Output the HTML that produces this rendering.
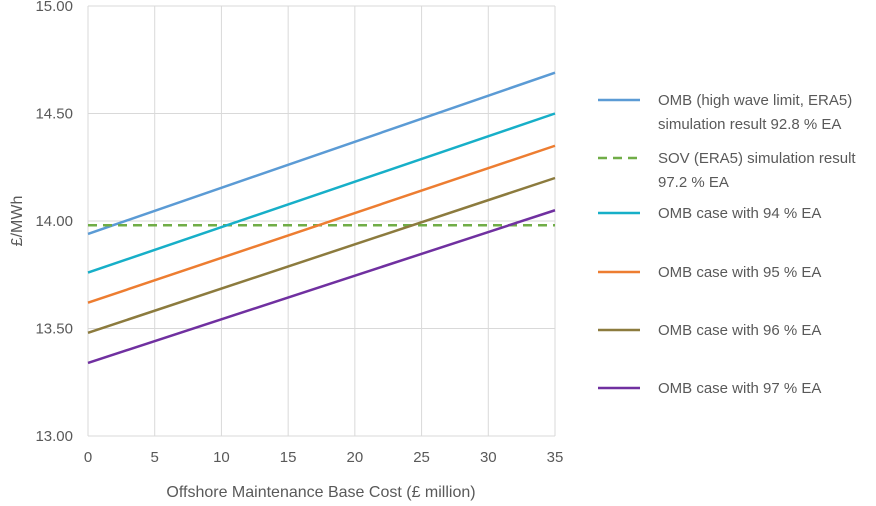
<!DOCTYPE html>
<html><head><meta charset="utf-8"><style>
body{margin:0;background:#fff;font-family:"Liberation Sans",sans-serif;}
svg text{font-family:"Liberation Sans",sans-serif;fill:#595959;}
</style></head><body>
<svg width="876" height="501" id="c">
<g id="grid"></g>
<g id="axes"></g>
<g id="series"></g>
<g id="legend"></g>
<text x="321" y="497" text-anchor="middle" font-size="16">Offshore Maintenance Base Cost (£ million)</text>
<text transform="translate(22,221) rotate(-90)" text-anchor="middle" font-size="16">£/MWh</text>
</svg>
<script>
const xTicks=[0,5,10,15,20,25,30,35];
const yTicks=[13.00,13.50,14.00,14.50,15.00];
const seriesNames=["OMB (high wave limit, ERA5)|simulation result 92.8 % EA","SOV (ERA5) simulation result|97.2 % EA","OMB case with 94 % EA","OMB case with 95 % EA","OMB case with 96 % EA","OMB case with 97 % EA"];
const seriesStart=[13.94,13.98,13.76,13.62,13.48,13.34];
const seriesEnd=[14.69,13.98,14.50,14.35,14.20,14.05];
const colors=["#5B9BD5","#70AD47","#17AFC8","#ED7D31","#8C7B3E","#7030A0"];
const ns="http://www.w3.org/2000/svg";
const X0=88,X1=555,Y0=436,Y1=6;
const xs=v=>X0+(v-0)/(35-0)*(X1-X0);
const ys=v=>Y0-(v-13)/(15-13)*(Y0-Y1);
function mk(t,a,p){const e=document.createElementNS(ns,t);for(const k in a)e.setAttribute(k,a[k]);p.appendChild(e);return e;}
const grid=document.getElementById('grid'),axes=document.getElementById('axes'),ser=document.getElementById('series'),leg=document.getElementById('legend');
xTicks.forEach(v=>{
 const l=mk('line',{x1:xs(v),x2:xs(v),y1:Y1,y2:Y0,stroke:'#D9D9D9','stroke-width':1},grid);
 
 
 const t=mk('text',{x:xs(v),y:Y0+26,'text-anchor':'middle','font-size':15},axes);
 t.textContent=v;
 
 
});
yTicks.forEach(v=>{
 const l=mk('line',{x1:X0,x2:X1,y1:ys(v),y2:ys(v),stroke:'#D9D9D9','stroke-width':1},grid);
 
 
 const t=mk('text',{x:X0-15,y:ys(v)+5,'text-anchor':'end','font-size':15},axes);
 t.textContent=v.toFixed(2);
 
 
});
const legY=[100,158,213,272,330,388];
seriesNames.forEach((n,i)=>{
 const l=mk('line',{x1:xs(0),x2:xs(35),y1:ys(seriesStart[i]),y2:ys(seriesEnd[i]),stroke:colors[i],'stroke-width':2.5},ser);
 if(i===1)l.setAttribute('stroke-dasharray','9,6');
 
 
 const ll=mk('line',{x1:598,x2:640,y1:legY[i],y2:legY[i],stroke:colors[i],'stroke-width':2.5},leg);
 if(i===1)ll.setAttribute('stroke-dasharray','9,6');
 
 
 const parts=n.split('|');
 parts.forEach((p,j)=>{
  const t=mk('text',{x:658,y:legY[i]+5+j*24,'font-size':15},leg);
  t.textContent=p;
  
  
 });
});
</script>
</body></html>
